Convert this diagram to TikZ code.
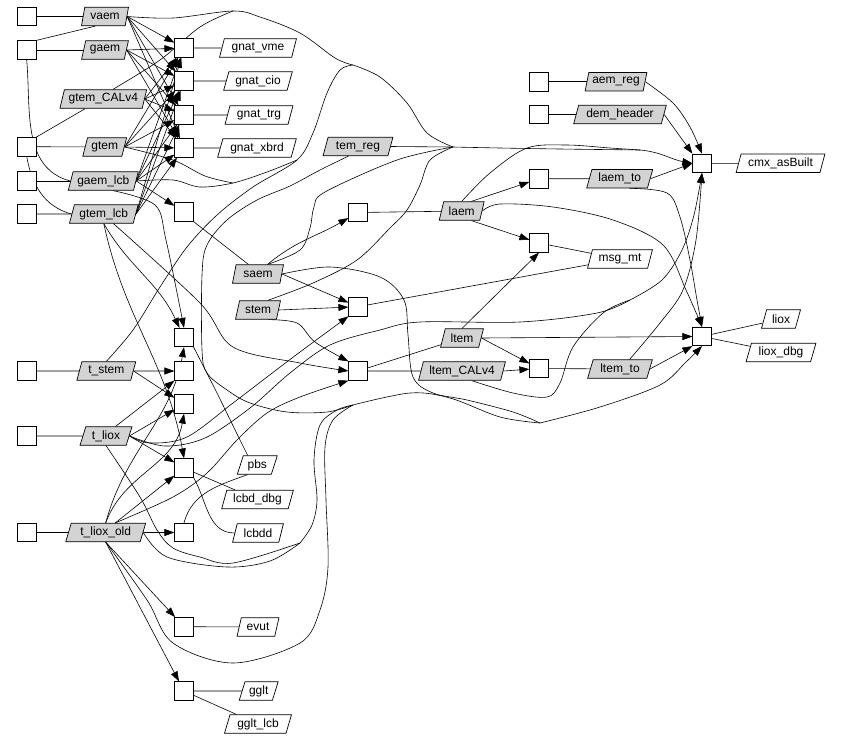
\documentclass[tikz,border=0pt]{standalone}
\usepackage{fontspec}
\setmainfont{Liberation Sans}
\usetikzlibrary{shapes.geometric,arrows.meta,backgrounds}
\definecolor{gfill}{RGB}{211,211,211}
\begin{document}
\begin{tikzpicture}[x=1pt,y=-1pt,
  sq/.style={draw, fill=white, minimum width=18.5pt, minimum height=18.5pt, inner sep=0pt, line width=0.7pt},
  par/.style={trapezium, trapezium left angle=70, trapezium right angle=110, trapezium stretches=true, draw, fill=white, line width=0.7pt, minimum height=18.5pt, inner sep=0pt, font=\fontsize{12}{14}\selectfont},
  gp/.style={par, fill=gfill},
  ed/.style={line width=0.6pt},
  ar/.style={ed, -{Triangle[length=10pt,width=7pt]}},
  sm/.style={smooth, tension=0.55}
]
\useasboundingbox (0,0) rectangle (841,740);
% left squares
\node[sq] (sqV) at (26.7,16.5) {};
\node[sq] (sqGa) at (26.7,50) {};
\node[sq] (sqGt) at (26.7,146.7) {};
\node[sq] (sqGal) at (26.7,181) {};
\node[sq] (sqGtl) at (26.7,214) {};
\node[sq] (sqTs) at (26.7,371) {};
\node[sq] (sqTl) at (26.7,436) {};
\node[sq] (sqTlo) at (26.7,532.5) {};
% gray inputs
\node[gp, minimum width=47pt] (vaem) at (105,16.5) {vaem};
\node[gp, minimum width=47pt] (gaem) at (105,50) {gaem};
\node[gp, minimum width=87pt] (gtemcal) at (103.3,99) {gtem\_CALv4};
\node[gp, minimum width=44pt] (gtem) at (104.7,147) {gtem};
\node[gp, minimum width=70pt] (gaemlcb) at (103.3,181) {gaem\_lcb};
\node[gp, minimum width=69pt] (gtemlcb) at (103.8,214) {gtem\_lcb};
\node[gp, minimum width=59pt] (tstem) at (106.3,371) {t\_stem};
\node[gp, minimum width=52pt] (tliox) at (106,436) {t\_liox};
\node[gp, minimum width=80pt] (tlioxold) at (105.7,532.5) {t\_liox\_old};
\node[gp, minimum width=70pt] (temreg) at (358,146.5) {tem\_reg};
\node[gp, minimum width=45pt] (laem) at (461.7,211) {laem};
\node[gp, minimum width=51pt] (saem) at (258,274) {saem};
\node[gp, minimum width=45pt] (stem) at (258,310) {stem};
\node[gp, minimum width=43pt] (ltem) at (462,338) {ltem};
\node[gp, minimum width=87pt] (ltemcal) at (462,371) {ltem\_CALv4};
\node[gp, minimum width=62pt] (aemreg) at (616,81.7) {aem\_reg};
\node[gp, minimum width=93pt] (demheader) at (620,114.5) {dem\_header};
\node[gp, minimum width=66pt] (laemto) at (619.7,178.7) {laem\_to};
\node[gp, minimum width=65pt] (ltemto) at (620,369) {ltem\_to};
% white outputs
\node[par, minimum width=77pt] (gnatvme) at (258,48) {gnat\_vme};
\node[par, minimum width=69pt] (gnatcio) at (258,81) {gnat\_cio};
\node[par, minimum width=68pt] (gnattrg) at (259,115) {gnat\_trg};
\node[par, minimum width=79pt] (gnatxbrd) at (257,148) {gnat\_xbrd};
\node[par, minimum width=65pt] (msgmt) at (620,259) {msg\_mt};
\node[par, minimum width=89pt] (cmx) at (780.5,163.3) {cmx\_asBuilt};
\node[par, minimum width=39pt] (liox) at (781,319) {liox};
\node[par, minimum width=70pt] (lioxdbg) at (781,352.5) {liox\_dbg};
\node[par, minimum width=40pt] (pbs) at (257.3,465) {pbs};
\node[par, minimum width=72pt] (lcbddbg) at (257.5,499.5) {lcbd\_dbg};
\node[par, minimum width=51pt] (lcbdd) at (258,533) {lcbdd};
\node[par, minimum width=42pt] (evut) at (258,627) {evut};
\node[par, minimum width=39pt] (gglt) at (258.7,691) {gglt};
\node[par, minimum width=67pt] (ggltlcb) at (258,724) {gglt\_lcb};
% process squares
\node[sq] (A1) at (184,48) {};
\node[sq] (A2) at (184,81) {};
\node[sq] (A3) at (184,115) {};
\node[sq] (A4) at (184,148) {};
\node[sq] (B) at (184,212) {};
\node[sq] (C1) at (184,337.5) {};
\node[sq] (C2) at (184,371) {};
\node[sq] (C3) at (184,404) {};
\node[sq] (D) at (184,468) {};
\node[sq] (E) at (184,532.5) {};
\node[sq] (F) at (184,626.7) {};
\node[sq] (G) at (184,691) {};
\node[sq] (H) at (358,212.5) {};
\node[sq] (I) at (358,306.7) {};
\node[sq] (J) at (358,371) {};
\node[sq] (K) at (539,81.7) {};
\node[sq] (L) at (539,114.5) {};
\node[sq] (M) at (539,178.7) {};
\node[sq] (N) at (539,243) {};
\node[sq] (O) at (539,368.5) {};
\node[sq] (P) at (702,163.3) {};
\node[sq] (Q) at (702,336.5) {};
% merge points
\coordinate (m0) at (353,65);
\coordinate (m1) at (453,147);
\coordinate (m2) at (640,150);
\coordinate (m3) at (297,160);
\coordinate (m4) at (630,300);
\coordinate (m5) at (353,405);
\coordinate (m6) at (540,423);
\coordinate (m7) at (300,543);
\coordinate (m8) at (233,183);
\coordinate (m9) at (233,11);
\begin{pgfonlayer}{background}
% ---------- plain lines
\draw[ed] (sqV) -- (vaem);
\draw[ed] (sqGa) -- (gaem);
\draw[ed] (sqGa.north east) -- (vaem.south west);
\draw[ed] (sqGa.south) to[out=-85,in=165] (gaemlcb.west);
\draw[ed] (sqGt) -- (gtem);
\draw[ed] (sqGt.north east) -- ([xshift=-18pt]gtemcal.south);
\draw[ed] (sqGt.south) to[out=-80,in=165] (gtemlcb.west);
\draw[ed] (sqGal) -- (gaemlcb);
\draw[ed] (sqGtl) -- (gtemlcb);
\draw[ed] (sqTs) -- (tstem);
\draw[ed] (sqTl) -- (tliox);
\draw[ed] (sqTlo) -- (tlioxold);
\draw[ed] (A1) -- (gnatvme);
\draw[ed] (A2) -- (gnatcio);
\draw[ed] (A3) -- (gnattrg);
\draw[ed] (A4) -- (gnatxbrd);
\draw[ed] (B.south east) -- (saem.north west);
\draw[ed] (H) -- (laem);
\draw[ed] (I) -- (msgmt);
\draw[ed] (N) -- (msgmt);
\draw[ed] (J) -- (ltemcal);
\draw[ed] (J) -- (ltem);
\draw[ed] (K) -- (aemreg);
\draw[ed] (L) -- (demheader);
\draw[ed] (M) -- (laemto);
\draw[ed] (O) -- (ltemto);
\draw[ed] (P) -- (cmx);
\draw[ed] (Q) -- (liox);
\draw[ed] (Q) -- (lioxdbg);
\draw[ed] (D) -- (lcbddbg);
\draw[ed] (D.south east) to[out=-60,in=180] (lcbdd.west);
\draw[ed] (E.north) to[out=75,in=200] (pbs.south west);
\draw[ed] plot[sm] coordinates {(C1.south east) (217,393) (240,440) (pbs.north west)};
\draw[ed] (F) -- (evut);
\draw[ed] (G) -- (gglt);
\draw[ed] (G) -- (ggltlcb);
% ---------- arrows into gnat squares
\foreach \s in {vaem,gaem,gtemcal,gtem,gaemlcb,gtemlcb}{
  \foreach \t in {A1,A2,A3,A4}{
    \draw[ar] (\s.east) -- (\t);
  }
}
% ---------- left arrows
\draw[ar] (gaemlcb.east) -- (B);
\draw[ar] plot[sm] coordinates {(gaemlcb.south east) (155,205) (166,240) (C1.north)};
\draw[ar] (gtemlcb.south) to[out=-60,in=115] (C1);
\draw[ar] (gtemlcb.south) to[out=-78,in=100] (D.north);
\draw[ar] plot[sm] coordinates {(gtemlcb.south east) (200,303) (233,347) (300,363) (J.west)};
\draw[ar] (tstem) -- (C2);
\draw[ar] (tstem.east) -- (C3);
\draw[ar] (tliox.north east) -- (C2.south west);
\draw[ar] (tliox.east) -- (C3);
\draw[ar] (tliox.east) -- (D);
\draw[ar] plot[sm] coordinates {(tliox.east) (150,443) (187,437) (233,403) (267,377) (300,352) (I.south west)};
\draw[ar] (tlioxold.north) to[out=75,in=-100] (C1.south);
\draw[ar] (tlioxold.north) to[out=70,in=-100] (C3.south);
\draw[ar] (tlioxold.north east) -- (D);
\draw[ar] (tlioxold) -- (E);
\draw[ar] (tlioxold.south) -- (F);
\draw[ar] (tlioxold.south) -- (G);
\draw[ar] plot[sm] coordinates {(tlioxold.north east) (173,497) (207,473) (237,440) (267,413) (300,397) (J.south west)};
% ---------- middle arrows
\draw[ar] (saem.north east) to[out=40,in=-150] (H);
\draw[ar] (saem.east) -- (I);
\draw[ar] (stem.east) -- (I);
\draw[ar] plot[sm] coordinates {(stem.south east) (297,323) (315,342) (J.north west)};
\draw[ar] (laem.north east) -- (M);
\draw[ar] (laem.south east) -- (N);
\draw[ar] (ltem.north) -- (N.south);
\draw[ar] (ltem.east) -- (O);
\draw[ar] (ltemcal.east) -- (O);
% ---------- paths merging towards cmx_asBuilt
\draw[ed] plot[sm] coordinates {(vaem.east) (173,18) (m9) (260,17) (300,33) (335,58) (m0)};
\draw[ed] plot[sm] coordinates {(gtemcal.north east) (160,60) (200,27) (m9)};
\draw[ed] plot[sm] coordinates {(m0) (380,77) (407,103) (427,133) (m1)};
\draw[ed] plot[sm] coordinates {(tstem.north) (133,330) (160,287) (187,247) (217,215) (253,187) (m3) (313,133) (327,93) (340,70) (m0)};
\draw[ed] plot[sm] coordinates {(gaemlcb.east) (173,180) (200,187) (m8) (267,172) (m3)};
\draw[ed] plot[sm] coordinates {(gtem.east) (173,160) (205,176) (m8)};
\draw[ed] (temreg.east) -- (m1);
\draw[ed] plot[sm] coordinates {(saem.north east) (300,250) (310,228) (314,207) (325,192) (397,160) (m1)};
\draw[ed] plot[sm] coordinates {(stem.north east) (313,283) (357,260) (390,228) (407,210) (420,185) (430,160) (m1)};
\draw[ed] plot[sm] coordinates {(m1) (500,148) (560,149) (m2)};
\draw[ed] plot[sm] coordinates {(laem.north) (490,173) (527,148) (567,145) (610,148) (m2)};
\draw[ar] (m2) to[out=-5,in=170] (P.west);
\draw[ar] plot[sm] coordinates {(aemreg.east) (673,103) (690,127) (P.north)};
\draw[ar] (demheader.east) -- (P.north west);
\draw[ar] (laemto.east) -- (P.west);
\draw[ar] plot[sm] coordinates {(ltemto.north east) (660,323) (683,290) (696,240) (P.south)};
\draw[ar] plot[sm] coordinates {(m4) (662,280) (682,250) (694,215) (P.south)};
\draw[ed] plot[sm] coordinates {(tliox.east) (165,446) (205,438) (250,408) (290,373) (330,345) (380,330) (420,322) (520,322) (597,313) (m4)};
\draw[ed] plot[sm] coordinates {(ltemcal.south east) (513,393) (547,397) (560,383) (573,347) (603,313) (m4)};
% ---------- paths towards liox
\draw[ar] plot[sm] coordinates {(laemto.south east) (667,193) (680,217) (690,260) (697,300) (Q.north)};
\draw[ar] plot[sm] coordinates {(laem.east) (500,204) (553,207) (613,220) (663,245) (686,290) (Q.north)};
\draw[ar] (ltem.east) -- (Q.west);
\draw[ar] (ltemto.east) -- (Q.south west);
\draw[ed] plot[sm] coordinates {(temreg.south west) (320,170) (290,186) (257,200) (227,220) (207,245) (202,275) (202,350) (207,373) (227,390) (250,403) (287,412) (327,412) (m5)};
\draw[ed] plot[sm] coordinates {(tliox.south) (140,497) (157,530) (173,548) (200,557) (233,563) (m7)};
\draw[ed] plot[sm] coordinates {(tlioxold.east) (167,557) (227,567) (270,561) (m7)};
\draw[ed] plot[sm] coordinates {(m7) (312,525) (317,500) (314,460) (320,425) (337,410) (m5)};
\draw[ed] plot[sm] coordinates {(tlioxold.south) (147,600) (173,643) (233,663) (300,643) (320,610) (328,567) (326,500) (325,447) (333,420) (m5)};
\draw[ed] plot[sm] coordinates {(m5) (410,393) (450,398) (500,417) (m6)};
\draw[ed] plot[sm] coordinates {(saem.east) (330,267) (380,277) (404,300) (408,335) (413,377) (433,393) (467,400) (513,412) (m6)};
\draw[ar] plot[sm] coordinates {(m6) (600,407) (660,385) (686,362) (Q.south)};
\end{pgfonlayer}
\end{tikzpicture}
\end{document}
